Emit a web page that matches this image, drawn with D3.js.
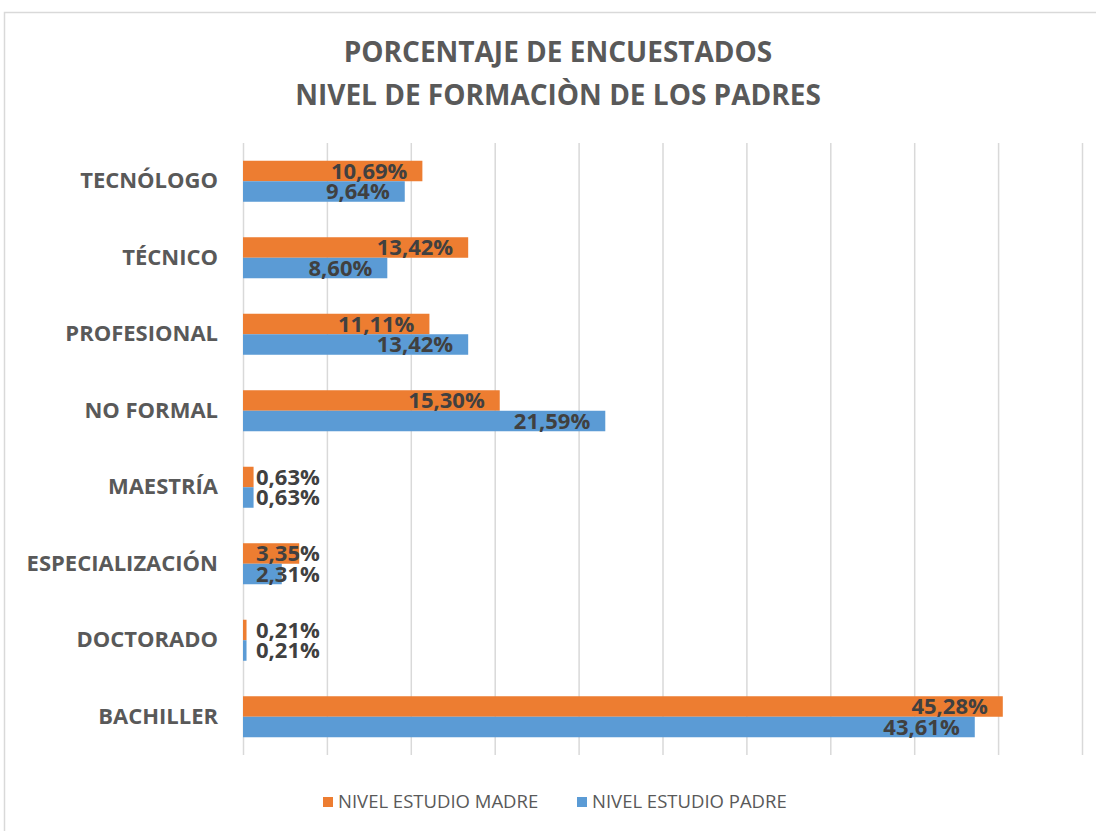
<!DOCTYPE html>
<html>
<head>
<meta charset="utf-8">
<script src="https://cdn.jsdelivr.net/npm/d3@7"></script>
<style>
  body { margin: 0; background: #fff; }
  svg { display: block; }
  svg text { font-family: "Open Sans", sans-serif; }
</style>
</head>
<body>
<svg id="chart" width="1096" height="831"></svg>
<script>
const categories = ['TECNÓLOGO', 'TÉCNICO', 'PROFESIONAL', 'NO FORMAL', 'MAESTRÍA', 'ESPECIALIZACIÓN', 'DOCTORADO', 'BACHILLER']
const madre = [10.69, 13.42, 11.11, 15.30, 0.63, 3.35, 0.21, 45.28]
const padre = [9.64, 8.60, 13.42, 21.59, 0.63, 2.31, 0.21, 43.61]
const seriesNames = ['NIVEL ESTUDIO MADRE', 'NIVEL ESTUDIO PADRE']
const xTicks = [0, 5, 10, 15, 20, 25, 30, 35, 40, 45, 50]

const colors = ['#ED7D31', '#5B9BD5']
const pct = d3.formatLocale({decimal: ',', thousands: '.', grouping: [3], currency: ['', '']}).format('.2f')

const svg = d3.select('#chart')

// chart frame
svg.append('rect')
  .attr('x', 4.5).attr('y', 12.5)
  .attr('width', 1200).attr('height', 1000)
  .attr('fill', '#fff')
  .attr('stroke', '#D9D9D9')
  .attr('stroke-width', 1.5)

// title
svg.append('text')
  .attr('x', 558).attr('y', 62)
  .attr('text-anchor', 'middle')
  .attr('font-size', 28).attr('font-weight', 'bold').attr('fill', '#595959')
  .text('PORCENTAJE DE ENCUESTADOS')
svg.append('text')
  .attr('x', 558).attr('y', 105)
  .attr('text-anchor', 'middle')
  .attr('font-size', 28).attr('font-weight', 'bold').attr('fill', '#595959')
  .text('NIVEL DE FORMACIÒN DE LOS PADRES')

const x = d3.scaleLinear().domain([0, 50]).range([243, 1082])
const y = d3.scaleBand().domain(categories).range([143, 755]).paddingInner(0.464).paddingOuter(0.232)
const ySub = d3.scaleBand().domain([0, 1]).range([0, y.bandwidth()])

// gridlines
svg.append('g')
  .attr('transform', 'translate(0,755)')
  .call(d3.axisBottom(x).tickValues(xTicks).tickSize(-612).tickFormat(''))
  .call(g => g.select('.domain').remove())
  .call(g => g.selectAll('line').attr('stroke', '#D9D9D9').attr('stroke-width', 1.5))

// category labels
svg.append('g')
  .attr('transform', 'translate(243,0)')
  .call(d3.axisLeft(y).tickSize(0).tickPadding(25))
  .call(g => g.select('.domain').remove())
  .call(g => g.selectAll('text')
    .attr('font-size', 22).attr('font-weight', 'bold').attr('fill', '#595959'))

const rows = categories.map((c, i) => ({cat: c, vals: [madre[i], padre[i]]}))

const groups = svg.selectAll('g.cat')
  .data(rows)
  .enter()
  .append('g')
  .attr('class', 'cat')
  .attr('transform', d => `translate(0,${y(d.cat)})`)

groups.selectAll('rect')
  .data(d => d.vals)
  .enter()
  .append('rect')
  .attr('x', x(0))
  .attr('y', (d, i) => ySub(i))
  .attr('width', d => x(d) - x(0))
  .attr('height', ySub.bandwidth())
  .attr('fill', (d, i) => colors[i])

groups.selectAll('text.val')
  .data(d => d.vals)
  .enter()
  .append('text')
  .attr('class', 'val')
  .attr('y', (d, i) => ySub(i) + ySub.bandwidth() / 2)
  .attr('dy', '0.36em')
  .attr('font-size', 22).attr('font-weight', 'bold').attr('fill', '#404040')
  .text(d => pct(d) + '%')
  .each(function (d) {
    const w = this.getComputedTextLength()
    const end = x(d) - 15
    if (end - w > x(0)) {
      d3.select(this).attr('x', end).attr('text-anchor', 'end')
    } else {
      d3.select(this).attr('x', x(0) + 13).attr('text-anchor', 'start')
    }
  })

// legend
const legend = svg.append('g').attr('transform', 'translate(0,802)')
const legendX = [323, 577]
seriesNames.forEach((name, i) => {
  legend.append('rect')
    .attr('x', legendX[i]).attr('y', -5)
    .attr('width', 10).attr('height', 10)
    .attr('fill', colors[i])
  legend.append('text')
    .attr('x', legendX[i] + 15).attr('y', 0)
    .attr('dy', '0.35em')
    .attr('font-size', 18.5).attr('fill', '#595959')
    .text(name)
})
</script>
</body>
</html>
